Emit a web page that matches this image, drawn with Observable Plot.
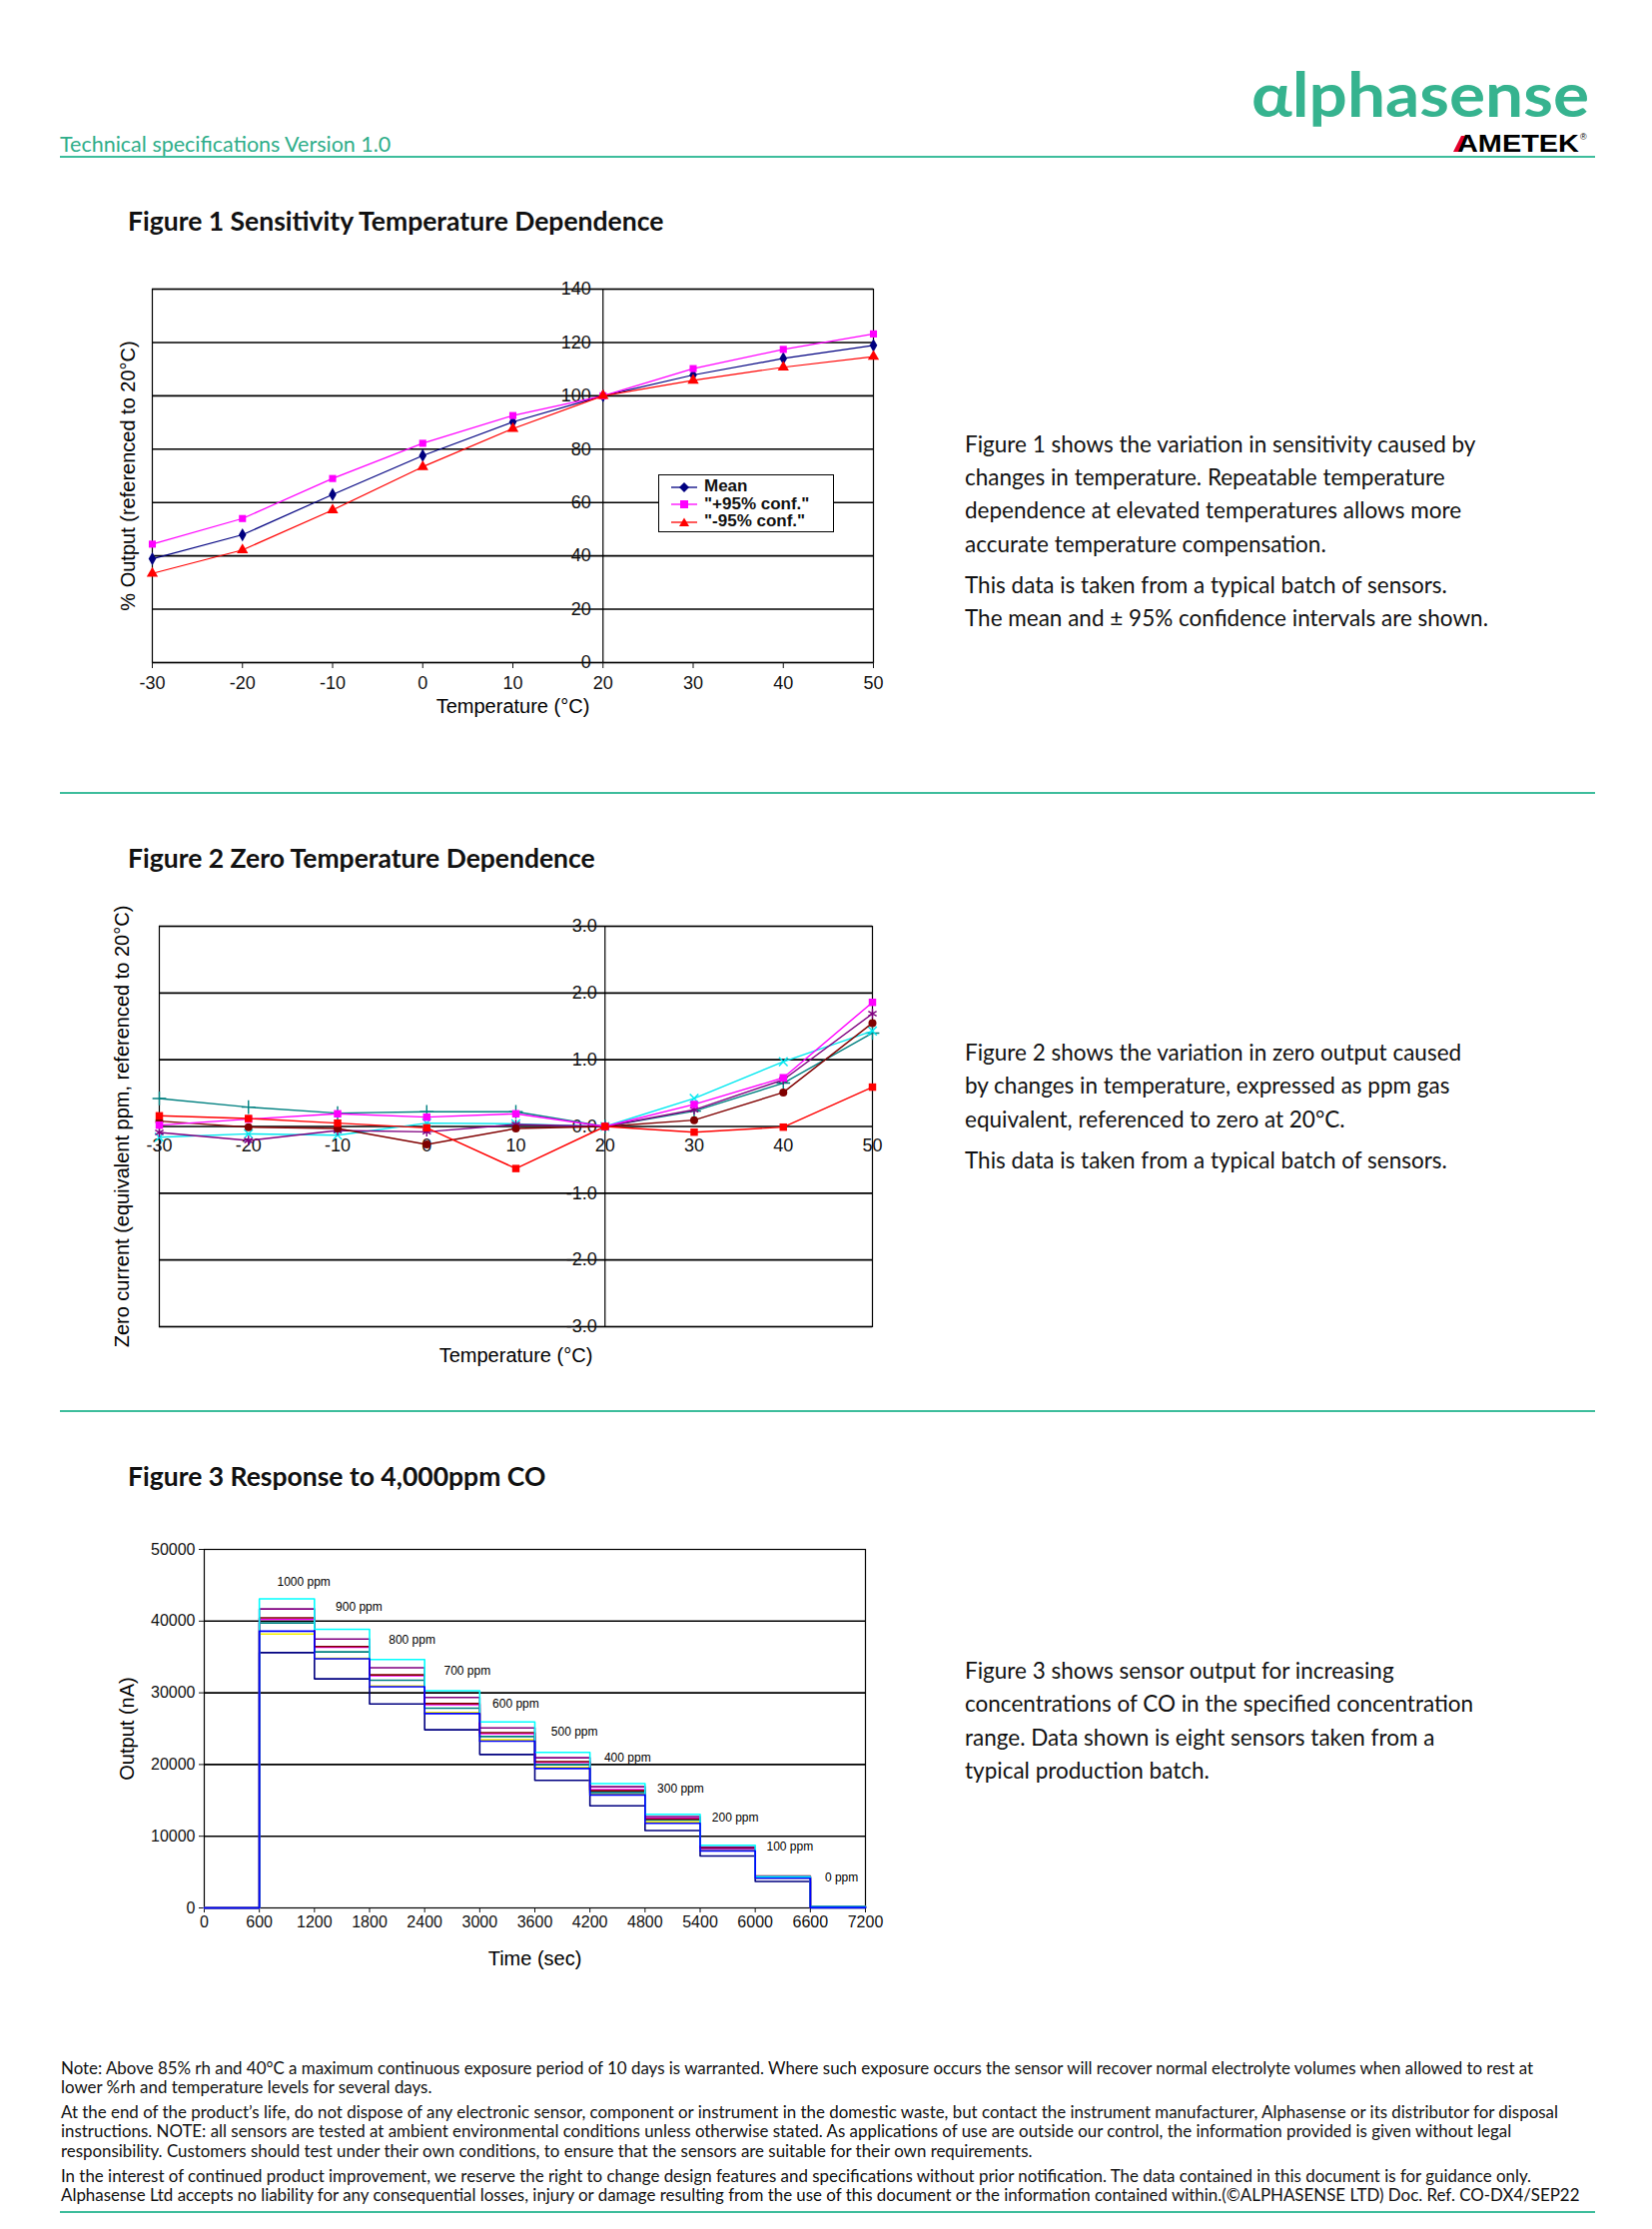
<!DOCTYPE html>
<html><head><meta charset="utf-8">
<script src="https://cdn.jsdelivr.net/npm/d3@7"></script>
<script src="https://cdn.jsdelivr.net/npm/@observablehq/plot@0.6"></script>
<style>
body{margin:0;background:#fff;}
#page{position:relative;width:1654px;height:2232px;overflow:hidden;font-family:Lato,"Open Sans",sans-serif;color:#111;background:#fff;}
.abs{position:absolute;white-space:nowrap;}
.hr{position:absolute;left:60px;width:1537px;height:2px;background:#3dbd9c;}
.chart{position:absolute;}
.legend{position:absolute;background:#fff;border:1px solid #000;font-family:"Liberation Sans",Arial,sans-serif;font-weight:bold;font-size:17px;}
.legend .row{position:absolute;left:12px;height:18px;line-height:18px;white-space:nowrap;}
.legend svg{vertical-align:middle;margin-right:7px;}
</style></head>
<body><div id="page"></div>
<script>
// ---------------- DATA ----------------
// Figure 1: sensitivity vs temperature
const temps = [-30, -20, -10, 0, 10, 20, 30, 40, 50];
const sensMean  = [38.9, 47.9, 63.0, 77.6, 90.2, 100, 107.8, 114.0, 118.9];
const sensPlus  = [44.4, 54.0, 69.0, 82.2, 92.6, 100, 110.2, 117.4, 123.2];
const sensMinus = [33.4, 42.2, 57.2, 73.4, 87.7, 100, 105.8, 110.7, 114.7];
const fig1YTicks = [0, 20, 40, 60, 80, 100, 120, 140];
const fig1Names = ["Mean", "\"+95% conf.\"", "\"-95% conf.\""];

// Figure 2: zero current vs temperature (six sensors)
const zeroTeal    = [0.42, 0.29, 0.20, 0.22, 0.22, 0, 0.23, 0.65, 1.40];
const zeroRed     = [0.16, 0.12, 0.05, -0.02, -0.63, 0, -0.085, -0.01, 0.59];
const zeroMagenta = [0.02, 0.11, 0.19, 0.14, 0.19, 0, 0.33, 0.73, 1.86];
const zeroBrown   = [0.08, -0.01, -0.03, -0.27, -0.03, 0, 0.095, 0.51, 1.55];
const zeroPurple  = [-0.09, -0.21, -0.06, -0.08, 0.03, 0, 0.25, 0.70, 1.69];
const zeroCyan    = [-0.16, -0.11, -0.13, 0.05, 0.04, 0, 0.42, 0.97, 1.43];
const fig2YTicks = [3, 2, 1, 0, -1, -2, -3];
const fig2YLabels = ["3.0", "2.0", "1.0", "0.0", "-1.0", "-2.0", "-3.0"];

// Figure 3: response to CO steps (eight sensors), one value per 600 s step
const stepStarts = [0, 600, 1200, 1800, 2400, 3000, 3600, 4200, 4800, 5400, 6000, 6600];
const endTime = 7200;
const outCyan    = [0, 43100, 38850, 34650, 30300, 25950, 21700, 17350, 13050, 8750, 4350, 150];
const outPurple  = [0, 41700, 37500, 33500, 29350, 25100, 20950, 16900, 12750, 8500, 4400, 120];
const outMaroon  = [0, 40450, 36450, 32500, 28500, 24450, 20400, 16350, 12400, 8400, 4450, 150];
const outMagenta = [0, 40250, 36350, 32400, 28350, 24300, 20300, 16500, 12500, 8300, 4300, 80];
const outTeal    = [0, 39750, 35700, 31750, 27850, 23900, 20000, 16100, 12250, 8250, 4250, 200];
const outYellow  = [0, 38200, 34800, 30950, 27250, 23450, 19600, 15850, 12000, 8150, 4200, 100];
const outBlue    = [0, 38600, 34750, 30850, 27100, 23250, 19450, 15750, 11800, 7950, 4150, 50];
const outNavy    = [0, 35600, 31950, 28450, 24850, 21400, 17800, 14250, 10800, 7250, 3700, 0];
const ppmLabels = ["1000 ppm", "900 ppm", "800 ppm", "700 ppm", "600 ppm", "500 ppm", "400 ppm", "300 ppm", "200 ppm", "100 ppm", "0 ppm"];
const ppmLabelTime  = [1084, 1685, 2263, 2864, 3392, 4031, 4609, 5187, 5782, 6377, 6940];
const ppmLabelValue = [45430, 41940, 37330, 33000, 28520, 24600, 20970, 16640, 12580, 8530, 4290];
const fig3XTicks = [0, 600, 1200, 1800, 2400, 3000, 3600, 4200, 4800, 5400, 6000, 6600, 7200];
const fig3YTicks = [0, 10000, 20000, 30000, 40000, 50000];

// ---------------- PAGE TEXT ----------------
const page = document.getElementById("page");
function addText(txt, x, cy, o = {}) {
  const d = document.createElement("div");
  d.className = "abs";
  const fs = o.size || 20, lh = Math.round(fs * 1.3);
  d.style.left = x + "px"; d.style.top = (cy - lh / 2) + "px";
  d.style.fontSize = fs + "px"; d.style.lineHeight = lh + "px";
  if (o.weight) d.style.fontWeight = o.weight;
  if (o.color) d.style.color = o.color;
  if (o.family) d.style.fontFamily = o.family;
  d.textContent = txt;
  page.appendChild(d);
  return d;
}
function addRule(y) { const d = document.createElement("div"); d.className = "hr"; d.style.top = (y - 1) + "px"; page.appendChild(d); }

// header
addText("Technical specifications Version 1.0", 60, 144, {size: 21.5, color: "#2fae8a"});
addRule(157); addRule(794); addRule(1413); addRule(2215);
page.insertAdjacentHTML("beforeend",
 `<svg class="abs" style="left:1230px;top:30px;overflow:visible" width="400" height="124">
   <text x="23" y="87" font-family="Lato, sans-serif" font-weight="700" font-size="62" fill="#36b38f" textLength="338" lengthAdjust="spacingAndGlyphs">αlphasense</text>
   <polygon points="225,122 233,106 238,106 231,122" fill="#e4002b"/>
   <text x="229" y="122" font-family="Liberation Sans, Arial, sans-serif" font-weight="900" font-size="23" fill="#000" textLength="122" lengthAdjust="spacingAndGlyphs">AMETEK</text>
   <text x="352" y="110" font-family="Liberation Sans, Arial, sans-serif" font-size="9" fill="#000">®</text>
 </svg>`);

// titles
addText("Figure 1 Sensitivity Temperature Dependence", 128, 221, {size: 26.5, weight: 700});
addText("Figure 2 Zero Temperature Dependence", 128, 859, {size: 26.5, weight: 700});
addText("Figure 3 Response to 4,000ppm CO", 128, 1478, {size: 26.5, weight: 700});

// descriptions
const desc1 = ["Figure 1 shows the variation in sensitivity caused by", "changes in temperature. Repeatable temperature", "dependence at elevated temperatures allows more", "accurate temperature compensation.", "This data is taken from a typical batch of sensors.", "The mean and ± 95% confidence intervals are shown."];
[444, 477, 510, 544, 585, 618].forEach((y, i) => addText(desc1[i], 966, y, {size: 22.5}));
const desc2 = ["Figure 2 shows the variation in zero output caused", "by changes in temperature, expressed as ppm gas", "equivalent, referenced to zero at 20°C.", "This data is taken from a typical batch of sensors."];
[1053, 1086, 1120, 1161].forEach((y, i) => addText(desc2[i], 966, y, {size: 22.5}));
const desc3 = ["Figure 3 shows sensor output for increasing", "concentrations of CO in the specified concentration", "range. Data shown is eight sensors taken from a", "typical production batch."];
[1672, 1705, 1739, 1772].forEach((y, i) => addText(desc3[i], 966, y, {size: 22.5}));

// footer
const foot = [
 "Note: Above 85% rh and 40°C a maximum continuous exposure period of 10 days is warranted. Where such exposure occurs the sensor will recover normal electrolyte volumes when allowed to rest at",
 "lower %rh and temperature levels for several days.",
 "At the end of the product’s life, do not dispose of any electronic sensor, component or instrument in the domestic waste, but contact the instrument manufacturer, Alphasense or its distributor for disposal",
 "instructions. NOTE: all sensors are tested at ambient environmental conditions unless otherwise stated. As applications of use are outside our control, the information provided is given without legal",
 "responsibility. Customers should test under their own conditions, to ensure that the sensors are suitable for their own requirements.",
 "In the interest of continued product improvement, we reserve the right to change design features and specifications without prior notification. The data contained in this document is for guidance only.",
 "Alphasense Ltd accepts no liability for any consequential losses, injury or damage resulting from the use of this document or the information contained within.(©ALPHASENSE LTD) Doc. Ref. CO-DX4/SEP22"];
[2071, 2090, 2115, 2134, 2154, 2179, 2198].forEach((y, i) => addText(foot[i], 61, y, {size: 16.9}));

// ---------------- CHARTS ----------------
const chartFont = "Liberation Sans, Arial, sans-serif";
function mount(svg, left, top) {
  const d = document.createElement("div"); d.className = "chart";
  d.style.left = left + "px"; d.style.top = top + "px";
  d.appendChild(svg); page.appendChild(d);
}
const baseStyle = {fontFamily: chartFont, background: "transparent", maxWidth: "none", overflow: "visible"};

// Figure 1
const fig1Series = [
  {name: fig1Names[0], values: sensMean,  color: "#000080", symbol: "diamond",  r: 4},
  {name: fig1Names[1], values: sensPlus,  color: "#ff00ff", symbol: "square",   r: 4},
  {name: fig1Names[2], values: sensMinus, color: "#ff0000", symbol: "triangle", r: 4.2}
];
const fig1Marks = [];
for (const s of fig1Series) {
  const rows = temps.map((t, i) => ({t, v: s.values[i]}));
  fig1Marks.push(Plot.line(rows, {x: "t", y: "v", stroke: s.color, strokeWidth: 1.2}));
  fig1Marks.push(Plot.dot(rows, {x: "t", y: "v", fill: s.color, symbol: s.symbol, r: s.r, stroke: "none"}));
}
const fig1 = Plot.plot({
  width: 840, height: 470, marginLeft: 92, marginRight: 26, marginTop: 29, marginBottom: 67,
  x: {domain: [-30, 50], axis: null},
  y: {domain: [0, 140], axis: null},
  style: baseStyle,
  marks: [
    Plot.ruleY(fig1YTicks, {stroke: "#000", strokeWidth: 1.6}),
    Plot.ruleX([20], {stroke: "#000", strokeWidth: 1.2}),
    Plot.frame({stroke: "#000", strokeWidth: 1.2}),
    Plot.text(fig1YTicks, {x: 20, y: d => d, text: d => String(d), textAnchor: "end", dx: -12, fontSize: 18, fill: "#111"}),
    Plot.axisX(temps, {tickSize: 6, tickPadding: 8, fontSize: 18, color: "#111", label: null, tickFormat: d => String(d)}),
    Plot.text(["Temperature (°C)"], {frameAnchor: "bottom", dy: 44, fontSize: 20, fill: "#000", lineAnchor: "middle"}),
    Plot.text(["% Output (referenced to 20°C)"], {frameAnchor: "left", textAnchor: "middle", dx: -24, rotate: -90, fontSize: 20, fill: "#000", lineAnchor: "middle"}),
    ...fig1Marks
  ]
});
mount(fig1, 60, 260);

// legend for fig 1
const legendHTML = fig1Series.map((s, i) => {
  let m;
  if (s.symbol === "diamond") m = `<polygon points="13,1 18,6 13,11 8,6" fill="${s.color}"/>`;
  else if (s.symbol === "square") m = `<rect x="9" y="2" width="8" height="8" fill="${s.color}"/>`;
  else m = `<polygon points="13,1.5 18,10 8,10" fill="${s.color}"/>`;
  return `<div class="row" style="top:${2 + i * 17.5}px"><svg width="26" height="12"><line x1="0" y1="6" x2="26" y2="6" stroke="${s.color}" stroke-width="1.3"/>${m}</svg>${s.name.replace(/"/g, "&quot;")}</div>`;
}).join("");
page.insertAdjacentHTML("beforeend", `<div class="legend" style="left:659px;top:475px;width:174px;height:56px">${legendHTML}</div>`);

// Figure 2
const fig2Series = [
  {values: zeroTeal,    color: "#008080", symbol: "plus",     fill: false, r: 4.5},
  {values: zeroCyan,    color: "#00e8f0", symbol: "times",    fill: false, r: 4},
  {values: zeroPurple,  color: "#800080", symbol: "asterisk", fill: false, r: 4.5},
  {values: zeroBrown,   color: "#800000", symbol: "circle",   fill: true,  r: 4},
  {values: zeroMagenta, color: "#ff00ff", symbol: "square",   fill: true,  r: 4.2},
  {values: zeroRed,     color: "#ff0000", symbol: "square",   fill: true,  r: 4.2}
];
const fig2Marks = [];
for (const s of fig2Series) {
  const rows = temps.map((t, i) => ({t, v: s.values[i]}));
  fig2Marks.push(Plot.line(rows, {x: "t", y: "v", stroke: s.color, strokeWidth: 1.4}));
  fig2Marks.push(s.fill
    ? Plot.dot(rows, {x: "t", y: "v", fill: s.color, stroke: "none", symbol: s.symbol, r: s.r})
    : Plot.dot(rows, {x: "t", y: "v", stroke: s.color, fill: "none", strokeWidth: 1.4, symbol: s.symbol, r: s.r}));
}
const fig2 = Plot.plot({
  width: 833, height: 488, marginLeft: 99, marginRight: 20, marginTop: 27, marginBottom: 60,
  x: {domain: [-30, 50], axis: null},
  y: {domain: [-3, 3], axis: null},
  style: baseStyle,
  marks: [
    Plot.ruleY(fig2YTicks, {stroke: "#000", strokeWidth: 1.6}),
    Plot.ruleX([20], {stroke: "#000", strokeWidth: 1.2}),
    Plot.frame({stroke: "#000", strokeWidth: 1.2}),
    Plot.text(fig2YTicks, {x: 20, y: d => d, text: (d, i) => fig2YLabels[i], textAnchor: "end", dx: -8, fontSize: 18, fill: "#111"}),
    Plot.text(temps, {x: d => d, y: 0, text: d => String(d), dy: 19, fontSize: 18, fill: "#111", lineAnchor: "middle"}),
    Plot.text(["Temperature (°C)"], {frameAnchor: "bottom", dy: 29, fontSize: 20, fill: "#000", lineAnchor: "middle"}),
    Plot.text(["Zero current (equivalent ppm, referenced to 20°C)"], {frameAnchor: "left", textAnchor: "middle", dx: -37, rotate: -90, fontSize: 20, fill: "#000", lineAnchor: "middle"}),
    ...fig2Marks
  ]
});
mount(fig2, 60, 900);

// Figure 3
const fig3Series = [
  {values: outNavy,    color: "#000080"},
  {values: outYellow,  color: "#f5f000"},
  {values: outTeal,    color: "#008080"},
  {values: outMagenta, color: "#ff00ff"},
  {values: outMaroon,  color: "#800000"},
  {values: outPurple,  color: "#800080"},
  {values: outCyan,    color: "#00ffff"},
  {values: outBlue,    color: "#0000ff"}
];
const fig3Marks = fig3Series.map(s => {
  const rows = stepStarts.map((t, i) => ({t, v: s.values[i]}));
  rows.push({t: endTime, v: s.values[s.values.length - 1]});
  return Plot.line(rows, {x: "t", y: "v", stroke: s.color, strokeWidth: 1.6, curve: "step-after"});
});
const ppmRows = ppmLabels.map((l, i) => ({l, t: ppmLabelTime[i], v: ppmLabelValue[i]}));
const fig3 = Plot.plot({
  width: 826, height: 460, marginLeft: 144, marginRight: 20, marginTop: 21, marginBottom: 80,
  x: {domain: [0, 7200], axis: null},
  y: {domain: [0, 50000], axis: null},
  style: baseStyle,
  marks: [
    Plot.ruleY([10000, 20000, 30000, 40000], {stroke: "#000", strokeWidth: 1.6}),
    Plot.frame({stroke: "#000", strokeWidth: 1.2}),
    Plot.axisY(fig3YTicks, {tickSize: 5, tickPadding: 4, fontSize: 16, color: "#111", label: null, tickFormat: d => String(d)}),
    Plot.axisX(fig3XTicks, {tickSize: 5, tickPadding: 3, fontSize: 16, color: "#111", label: null, tickFormat: d => String(d)}),
    ...fig3Marks,
    Plot.text(ppmRows, {x: "t", y: "v", text: "l", fontSize: 12, fill: "#000"}),
    Plot.text(["Time (sec)"], {frameAnchor: "bottom", dy: 51, fontSize: 20, fill: "#000", lineAnchor: "middle"}),
    Plot.text(["Output (nA)"], {frameAnchor: "left", textAnchor: "middle", dx: -77, rotate: -90, fontSize: 20, fill: "#000", lineAnchor: "middle"})
  ]
});
mount(fig3, 60, 1530);
</script>
</body></html>
